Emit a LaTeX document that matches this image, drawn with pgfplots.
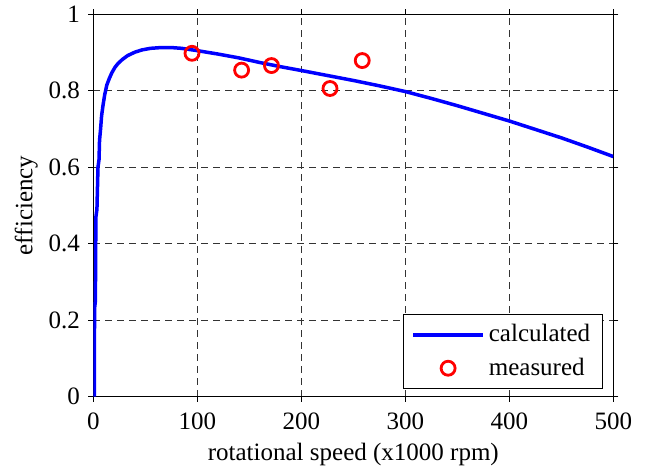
\documentclass[border=0pt]{standalone}
\usepackage{fontspec}
\setmainfont{Liberation Serif}
\usepackage{pgfplots}
\pgfplotsset{compat=1.18}
\pgfplotsset{
 lineleg/.style={legend image code/.code={\draw[##1] (0pt,0pt) -- (70pt,0pt);}},
 markleg/.style={legend image code/.code={\draw[mark repeat=2,mark phase=2,##1] plot coordinates {(0pt,0pt) (35pt,0pt) (70pt,0pt)};}},
}
\begin{document}
\fontsize{25}{30}\selectfont
\begin{tikzpicture}
\begin{axis}[
 at={(0,0)}, anchor=south west,
 scale only axis, width=520pt, height=382.4pt,
 xmin=0, xmax=500, ymin=0, ymax=1,
 xtick={0,100,200,300,400,500},
 ytick={0,0.2,0.4,0.6,0.8,1},
 yticklabels={0,0.2,0.4,0.6,0.8,1},
 xticklabels={0,100,200,300,400,500},
 grid=major,
 grid style={dash pattern=on 7pt off 5pt, color=black!80, line width=0.9pt},
 tick align=outside, major tick length=5pt,
 tick style={black, line width=1pt},
 axis line style={line width=1.2pt},
 xtick pos=both, ytick pos=both,
 ticklabel style={font=\fontsize{25}{30}\selectfont},
 label style={font=\fontsize{25}{30}\selectfont},
 xticklabel style={yshift=-3pt},
 xlabel style={yshift=4pt},
 ylabel style={yshift=-6pt},
 /pgf/number format/assume math mode=true,
 xlabel={rotational speed (x1000 rpm)},
 ylabel={efficiency},
 legend style={at={(0.9796,0.0194)}, anchor=south east, draw=black, line width=1pt,
   font=\fontsize{25}{30}\selectfont, inner xsep=8pt, inner ysep=6pt, row sep=4pt,
   nodes={inner sep=4pt, anchor=west}},
 legend cell align=left,
]
\addplot[blue, line width=3.5pt, line join=round, lineleg]
 coordinates {
 (1,0) (1.2,0.23) (2,0.25) (2.5,0.47) (3.5,0.49) (4.5,0.60) (5.5,0.62) (6,0.67)
 (7,0.70) (8,0.735) (9.5,0.765) (11,0.79) (13,0.815) (15.5,0.833) (18,0.848)
 (21,0.862) (24,0.872) (28,0.882) (33,0.892) (40,0.901) (47,0.907) (55,0.911)
 (65,0.913) (75,0.913) (85,0.911) (100,0.905) (120,0.896) (140,0.886) (160,0.874)
 (180,0.863) (200,0.853) (225,0.840) (250,0.827) (275,0.813) (300,0.798)
 (325,0.780) (350,0.761) (375,0.741) (400,0.721) (425,0.699) (450,0.677)
 (475,0.653) (500,0.628)
 };
\addlegendentry{calculated}
\addplot[only marks, red, mark=o, mark size=7pt, line width=2.8pt, markleg]
 coordinates {
 (94.9,0.898) (142.6,0.854) (171.3,0.866) (227.6,0.806) (258.6,0.879)
 };
\addlegendentry{measured}
\end{axis}
\pgfresetboundingbox
\path[use as bounding box] (-93.3pt,-70.3pt) rectangle (565.7pt,396.7pt);
\end{tikzpicture}
\end{document}
